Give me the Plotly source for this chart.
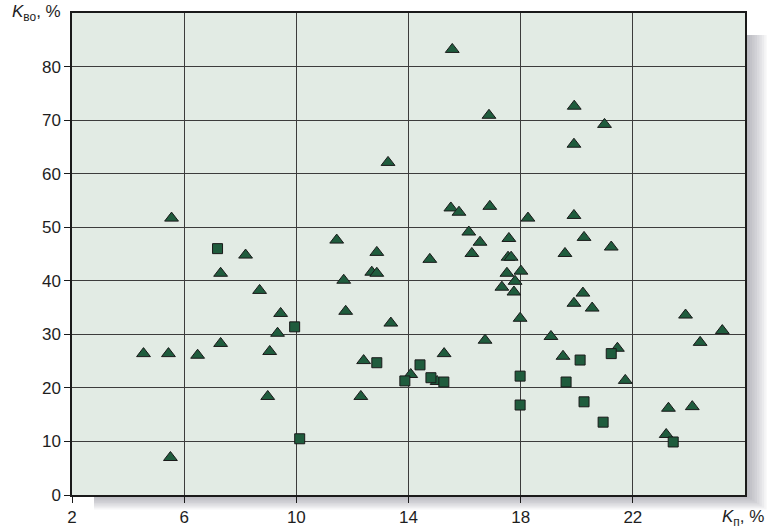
import plotly.graph_objects as go

# Kп, % vs Kво, % — triangle group
tri_kp = [4.55, 5.44, 5.55, 5.51, 6.48, 7.30, 7.30, 8.19, 8.69, 9.05, 8.98, 9.33, 9.44,
          11.44, 11.69, 11.76, 12.40, 12.30, 12.69, 12.87, 12.87, 13.27, 13.37, 14.08,
          14.76, 15.02, 15.27, 15.51, 15.80, 15.56, 16.15, 16.26, 16.55, 16.73, 16.90,
          16.87, 17.33, 17.51, 17.55, 17.66, 17.58, 17.76, 17.80, 17.98, 18.01, 18.26,
          19.08, 19.51, 19.58, 19.90, 19.90, 19.91, 19.90, 20.22, 20.26, 20.55, 20.99,
          21.23, 21.45, 21.73, 23.19, 23.27, 23.88, 24.12, 24.40, 25.19]
tri_kvo = [26.4, 26.4, 51.7, 7.0, 26.1, 41.4, 28.3, 44.8, 38.2, 26.8, 18.4, 30.2, 33.9,
           47.6, 40.1, 34.3, 25.1, 18.4, 41.6, 41.4, 45.3, 62.1, 32.1, 22.5,
           44.0, 21.2, 26.4, 53.6, 52.8, 83.2, 49.1, 45.1, 47.2, 28.9, 53.9,
           70.9, 38.8, 41.4, 44.4, 44.4, 47.9, 37.9, 39.9, 33.0, 41.8, 51.7,
           29.6, 25.9, 45.1, 52.2, 35.8, 72.6, 65.5, 37.7, 48.1, 34.9, 69.2,
           46.3, 27.4, 21.4, 11.3, 16.2, 33.6, 16.5, 28.5, 30.7]

# square group
sq_kp = [7.19, 9.94, 10.12, 12.87, 13.87, 14.41, 14.80, 15.26, 17.98, 17.98,
         19.62, 20.12, 20.26, 20.94, 21.23, 23.44]
sq_kvo = [46.0, 31.4, 10.5, 24.7, 21.3, 24.3, 21.9, 21.1, 22.2, 16.8,
          21.1, 25.2, 17.4, 13.6, 26.4, 9.9]

x_ticks = [2, 6, 10, 14, 18, 22]
y_ticks = [0, 10, 20, 30, 40, 50, 60, 70, 80]

W, H = 768, 530
ML, MR, MT, MB = 72, 23, 13, 35
PW, PH = W - ML - MR, H - MT - MB

FILL = "#1f5c3d"
EDGE = "#1a1a1a"
BG = "#e2ebe4"
FONT = "Liberation Sans, Arial, sans-serif"


def px_x(p):
    return (p - ML) / PW


def px_y(p):
    return (H - MB - p) / PH


fig = go.Figure()

fig.add_trace(go.Scatter(
    x=tri_kp, y=tri_kvo, mode="markers",
    marker=dict(symbol="triangle-up", size=12, color=FILL,
                line=dict(color=EDGE, width=1)),
    showlegend=False, cliponaxis=False,
))
fig.add_trace(go.Scatter(
    x=sq_kp, y=sq_kvo, mode="markers",
    marker=dict(symbol="square", size=10, color=FILL,
                line=dict(color=EDGE, width=1)),
    showlegend=False, cliponaxis=False,
))

# soft drop shadow behind the plot frame, then the plot background on top
shapes = []
for i in range(1, 10):
    shapes.append(dict(
        type="rect", xref="paper", yref="paper", layer="below",
        x0=px_x(ML + 22), x1=px_x(ML + PW + 2.4 * i),
        y0=px_y(MT + PH + 1.6 * i), y1=px_y(MT + 22),
        fillcolor="rgba(110,110,125,0.065)", line=dict(width=0),
    ))
shapes.append(dict(
    type="rect", xref="paper", yref="paper", layer="below",
    x0=0, x1=1, y0=0, y1=1, fillcolor=BG, line=dict(width=0),
))

axis_common = dict(
    showline=True, linecolor="#1a1a1a", linewidth=1.5, mirror=True,
    showgrid=True, gridcolor="#3c3c3c", gridwidth=1.2,
    ticks="outside", ticklen=6, tickcolor="#1a1a1a", tickwidth=1.2,
    zeroline=False,
    tickfont=dict(family=FONT, size=17, color="#1e1e1e"),
)

fig.update_layout(
    width=W, height=H,
    margin=dict(l=ML, r=MR, t=MT, b=MB, autoexpand=False),
    paper_bgcolor="white", plot_bgcolor=BG,
    shapes=shapes,
    xaxis=dict(range=[2, 26], tickvals=x_ticks, ticktext=[str(v) for v in x_ticks],
               automargin=False, **axis_common),
    yaxis=dict(range=[0, 90], tickvals=y_ticks, ticktext=[str(v) for v in y_ticks],
               automargin=False, **axis_common),
    annotations=[
        dict(text="<i>K</i><sub>во</sub>, %", xref="paper", yref="paper",
             x=px_x(63), y=1, xanchor="right", yanchor="middle", showarrow=False,
             font=dict(family=FONT, size=17, color="#1e1e1e")),
        dict(text="<i>K</i><sub>п</sub>, %", xref="paper", yref="paper",
             x=px_x(766), y=px_y(518), xanchor="right", yanchor="middle",
             showarrow=False,
             font=dict(family=FONT, size=17, color="#1e1e1e")),
    ],
)

fig.write_html("out.html")
